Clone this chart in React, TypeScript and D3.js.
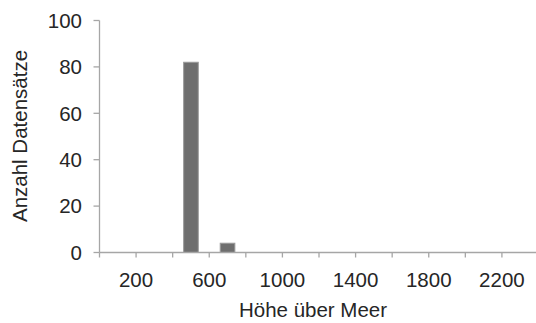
import { useMemo } from 'react'
import * as d3 from 'd3'

const WIDTH = 536
const HEIGHT = 323

// bin lower edges (bin width 200) and record counts
const binStarts = [0, 200, 400, 600, 800, 1000, 1200, 1400, 1600, 1800, 2000, 2200]
const counts = [0, 0, 82, 4, 0, 0, 0, 0, 0, 0, 0, 0]
const BIN_WIDTH = 200

const yTicks = [0, 20, 40, 60, 80, 100]
const xTicks = [0, 200, 400, 600, 800, 1000, 1200, 1400, 1600, 1800, 2000, 2200, 2400]
const xLabels = [200, 600, 1000, 1400, 1800, 2200]

const AXIS = '#a6a6a6'
const TEXT = '#262626'
const FONT = '"Liberation Sans", Arial, sans-serif'

export default function App() {
  const { x, y } = useMemo(() => {
    const x = d3.scaleLinear().domain([0, 2400]).range([99.5, 538.5])
    const y = d3.scaleLinear().domain([0, 100]).range([252.5, 20.5])
    return { x, y }
  }, [])

  const step = x(BIN_WIDTH) - x(0)
  const barW = step / 2.5

  return (
    <div style={{ position: 'absolute', left: 0, top: 0 }}>
      <svg width={WIDTH} height={HEIGHT} style={{ display: 'block', background: '#fff' }} fontFamily={FONT}>
        {/* bars */}
        {binStarts.map((b, i) => {
          const v = counts[i]
          if (!v) return null
          const cx = x(b + BIN_WIDTH / 2)
          return (
            <rect
              key={b}
              x={cx - barW / 2}
              y={y(v)}
              width={barW}
              height={y(0) - y(v)}
              fill="#6e6e6e"
              stroke="#9a9a9a"
              strokeWidth={1}
            />
          )
        })}

        {/* y axis */}
        <line x1={x(0)} x2={x(0)} y1={y(100)} y2={y(0)} stroke={AXIS} strokeWidth={1.3} />
        {yTicks.map(t => (
          <g key={`y-${t}`}>
            <line x1={x(0) - 6} x2={x(0)} y1={y(t)} y2={y(t)} stroke={AXIS} strokeWidth={1.3} />
            <text x={82} y={y(t)} dy="0.36em" textAnchor="end" fontSize={20.5} fill={TEXT}>
              {t}
            </text>
          </g>
        ))}

        {/* x axis */}
        <line x1={x(0)} x2={WIDTH} y1={y(0)} y2={y(0)} stroke={AXIS} strokeWidth={1.3} />
        {xTicks.map(t => (
          <line key={`xt-${t}`} x1={x(t)} x2={x(t)} y1={y(0)} y2={y(0) + 5} stroke={AXIS} strokeWidth={1.3} />
        ))}
        {xLabels.map(t => (
          <text key={`xl-${t}`} x={x(t)} y={287} textAnchor="middle" fontSize={20.5} fill={TEXT}>
            {t}
          </text>
        ))}

        {/* axis titles */}
        <text x={313} y={317} textAnchor="middle" fontSize={20.5} fill={TEXT}>
          Höhe über Meer
        </text>
        <text
          transform={`translate(27, 136) rotate(-90)`}
          textAnchor="middle"
          fontSize={20.5}
          fill={TEXT}
        >
          Anzahl Datensätze
        </text>
      </svg>
    </div>
  )
}
